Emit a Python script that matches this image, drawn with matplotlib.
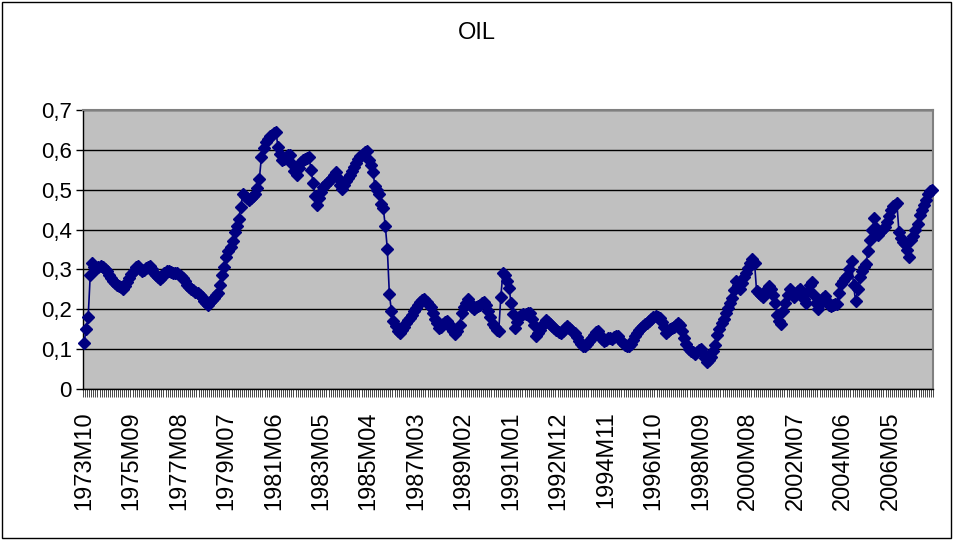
import numpy as np
import matplotlib.pyplot as plt
from matplotlib.patches import Rectangle

plt.rcParams['font.family'] = ['Liberation Sans', 'DejaVu Sans']

# monthly values, 1973M10 .. 2008M01
y1973 = [0.115, 0.150, 0.180]
y1974 = [0.285, 0.315, 0.305, 0.300, 0.305, 0.308, 0.305, 0.300, 0.295, 0.285, 0.278, 0.272]
y1975 = [0.265, 0.262, 0.258, 0.255, 0.250, 0.258, 0.268, 0.278, 0.288, 0.295, 0.305, 0.308]
y1976 = [0.300, 0.296, 0.298, 0.303, 0.306, 0.308, 0.300, 0.292, 0.285, 0.280, 0.275, 0.282]
y1977 = [0.290, 0.296, 0.297, 0.293, 0.290, 0.292, 0.290, 0.287, 0.283, 0.278, 0.270, 0.262]
y1978 = [0.256, 0.250, 0.248, 0.244, 0.240, 0.237, 0.230, 0.222, 0.215, 0.212, 0.218, 0.223]
y1979 = [0.228, 0.235, 0.240, 0.260, 0.285, 0.305, 0.330, 0.345, 0.356, 0.372, 0.394, 0.410]
y1980 = [0.427, 0.457, 0.490, 0.485, 0.478, 0.474, 0.478, 0.484, 0.490, 0.505, 0.528, 0.583]
y1981 = [0.605, 0.620, 0.628, 0.634, 0.638, 0.642, 0.646, 0.608, 0.590, 0.575, 0.578, 0.582]
y1982 = [0.586, 0.587, 0.565, 0.548, 0.537, 0.555, 0.570, 0.575, 0.578, 0.580, 0.583, 0.550]
y1983 = [0.516, 0.485, 0.462, 0.480, 0.495, 0.507, 0.512, 0.518, 0.524, 0.530, 0.538, 0.545]
y1984 = [0.530, 0.512, 0.503, 0.512, 0.522, 0.530, 0.537, 0.548, 0.558, 0.568, 0.578, 0.585]
y1985 = [0.590, 0.595, 0.596, 0.575, 0.562, 0.545, 0.510, 0.500, 0.490, 0.465, 0.455, 0.410]
y1986 = [0.352, 0.238, 0.196, 0.170, 0.158, 0.145, 0.140, 0.148, 0.155, 0.165, 0.172, 0.178]
y1987 = [0.186, 0.196, 0.203, 0.210, 0.218, 0.224, 0.226, 0.218, 0.210, 0.205, 0.190, 0.175]
y1988 = [0.165, 0.154, 0.155, 0.162, 0.168, 0.170, 0.162, 0.152, 0.145, 0.138, 0.145, 0.160]
y1989 = [0.190, 0.205, 0.215, 0.226, 0.215, 0.205, 0.200, 0.205, 0.208, 0.212, 0.215, 0.218]
y1990 = [0.210, 0.196, 0.180, 0.163, 0.155, 0.148, 0.145, 0.230, 0.290, 0.285, 0.270, 0.254]
y1991 = [0.216, 0.187, 0.152, 0.168, 0.180, 0.186, 0.187, 0.188, 0.190, 0.190, 0.175, 0.160]
y1992 = [0.132, 0.140, 0.148, 0.157, 0.165, 0.174, 0.168, 0.162, 0.157, 0.152, 0.148, 0.144]
y1993 = [0.140, 0.146, 0.152, 0.157, 0.152, 0.148, 0.143, 0.140, 0.130, 0.120, 0.112, 0.107]
y1994 = [0.108, 0.114, 0.120, 0.128, 0.136, 0.142, 0.145, 0.135, 0.125, 0.120, 0.124, 0.128]
y1995 = [0.128, 0.126, 0.130, 0.132, 0.132, 0.124, 0.116, 0.110, 0.108, 0.107, 0.112, 0.122]
y1996 = [0.132, 0.140, 0.148, 0.153, 0.158, 0.162, 0.165, 0.170, 0.176, 0.180, 0.182, 0.180]
y1997 = [0.177, 0.168, 0.155, 0.140, 0.145, 0.150, 0.152, 0.156, 0.160, 0.165, 0.160, 0.145]
y1998 = [0.127, 0.112, 0.100, 0.096, 0.092, 0.089, 0.092, 0.098, 0.100, 0.090, 0.078, 0.068]
y1999 = [0.072, 0.080, 0.095, 0.110, 0.135, 0.150, 0.165, 0.175, 0.190, 0.203, 0.215, 0.228]
y2000 = [0.248, 0.270, 0.262, 0.250, 0.265, 0.280, 0.292, 0.304, 0.315, 0.325, 0.317, 0.245]
y2001 = [0.240, 0.235, 0.232, 0.240, 0.250, 0.258, 0.250, 0.237, 0.215, 0.186, 0.170, 0.162]
y2002 = [0.196, 0.215, 0.235, 0.250, 0.240, 0.230, 0.238, 0.245, 0.250, 0.235, 0.225, 0.217]
y2003 = [0.245, 0.260, 0.268, 0.235, 0.215, 0.200, 0.215, 0.228, 0.234, 0.220, 0.212, 0.208]
y2004 = [0.210, 0.213, 0.213, 0.240, 0.263, 0.270, 0.278, 0.284, 0.300, 0.322, 0.260, 0.220]
y2005 = [0.250, 0.280, 0.295, 0.305, 0.314, 0.345, 0.373, 0.400, 0.428, 0.405, 0.386, 0.395]
y2006 = [0.400, 0.407, 0.420, 0.435, 0.450, 0.458, 0.462, 0.466, 0.394, 0.380, 0.370, 0.365]
y2007 = [0.350, 0.330, 0.373, 0.385, 0.399, 0.415, 0.437, 0.450, 0.462, 0.475, 0.490, 0.496]
y2008 = [0.500]

oil = (y1973 + y1974 + y1975 + y1976 + y1977 + y1978 + y1979 + y1980 + y1981
       + y1982 + y1983 + y1984 + y1985 + y1986 + y1987 + y1988 + y1989 + y1990
       + y1991 + y1992 + y1993 + y1994 + y1995 + y1996 + y1997 + y1998 + y1999
       + y2000 + y2001 + y2002 + y2003 + y2004 + y2005 + y2006 + y2007 + y2008)

# category labels 1973M10, 1973M11, ...
months = []
yr, mo = 1973, 10
for _ in range(len(oil)):
    months.append(f"{yr}M{mo:02d}")
    mo += 1
    if mo > 12:
        yr, mo = yr + 1, 1

label_step = 23
x = np.arange(len(oil))

fig = plt.figure(figsize=(9.54, 5.41), dpi=100)
ax = fig.add_axes([83 / 954, 1 - 389 / 541, 850 / 954, 279 / 541])
ax.set_facecolor('#C0C0C0')

ax.plot(x, oil, color='#000080', linewidth=1.2, marker='D', markersize=6,
        markeredgecolor='#000080', markerfacecolor='#000080', zorder=3,
        clip_on=False)

ax.set_xlim(-0.5, len(oil) - 0.5)
ax.set_ylim(0, 0.7)
yt = np.arange(0, 0.71, 0.1)
ax.set_yticks(yt)
ax.set_yticklabels([f"{v:.1f}".replace('.', ',').replace('0,0', '0') for v in yt])
ax.grid(axis='y', color='black', linewidth=1, zorder=1)
ax.set_axisbelow(True)

ax.set_xticks(x[::label_step])
ax.set_xticklabels(months[::label_step], rotation=90)
ax.set_xticks(np.arange(-0.5, len(oil), 1), minor=True)
ax.tick_params(axis='x', which='major', length=0, pad=16, labelsize=17)
ax.tick_params(axis='x', which='minor', length=6, width=0.5, color='black')
ax.tick_params(axis='y', length=5, width=1, labelsize=16, pad=3)

for s in ['top', 'right']:
    ax.spines[s].set_color('#808080')
    ax.spines[s].set_linewidth(1.5)
for s in ['left', 'bottom']:
    ax.spines[s].set_color('black')
    ax.spines[s].set_linewidth(1)

fig.text(0.5, 1 - 33 / 541, 'OIL', ha='center', va='center', fontsize=17)
fig.patches.append(Rectangle((2 / 954, 3 / 541), 949 / 954, 536 / 541,
                             transform=fig.transFigure, fill=False,
                             edgecolor='black', linewidth=1))

plt.savefig('out.png', dpi=100)
